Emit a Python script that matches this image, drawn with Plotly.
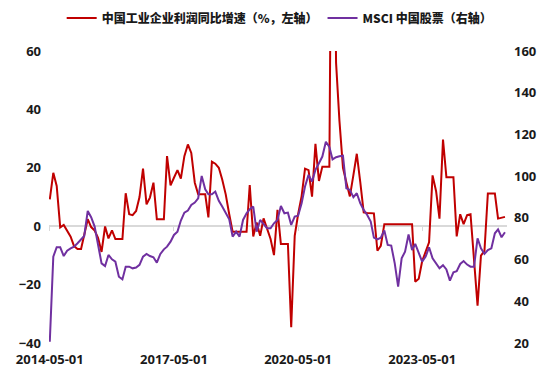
import pandas as pd
import plotly.graph_objects as go

start_month = "2014-05-01"
n_months = 133

profit_yoy = [
    9.2, 18.3, 13.8, -0.4, 0.4, -1.6, -3.6, -6.8, -7.8, -7.8,
    -2.5, 2.4, -0.3, -1.5, -4.0, -8.8, -0.1, -4.2, -1.4, -4.4,
    -4.4, -4.4, 11.3, 4.1, 3.8, 5.2, 10.0, 19.7, 7.5, 9.8,
    14.9, 2.4, 2.4, 2.4, 24.0, 14.0, 16.6, 19.2, 16.3, 24.0,
    28.0, 25.1, 14.9, 10.9, 10.9, 10.9, 3.0, 22.1, 21.4, 20.0,
    16.0, 10.9, 4.1, -1.9, -1.9, -1.9, -1.9, -1.9, 14.1, -3.5,
    1.3, -3.3, 2.7, -1.0, -4.4, -9.9, 5.6, -6.1, -6.1, -6.1,
    -34.6, -3.3, 4.1, 10.3, 19.7, 19.2, 10.1, 28.2, 15.5, 20.4,
    20.4, 20.4, 178.9, 56.0, 36.0, 20.0, 15.0, 10.2, 17.5, 24.8,
    15.0, 4.7, 4.5, 4.5, 4.4, -8.4, -6.7, 0.7, 0.7, 0.7,
    0.7, 0.7, 0.7, 0.7, 0.7, 0.7, -19.0, -18.0, -12.0, -8.5,
    -5.5, 17.4, 12.0, 2.6, 29.7, 16.8, 16.8, 16.8, -3.5, 4.1,
    0.7, 3.8, 4.1, -12.4, -27.2, -10.1, -8.4, 11.2, 11.2, 11.2,
    2.6, 3.0, 3.2,
]

msci_china = [
    20.6, 61.4, 65.9, 65.9, 61.7, 64.3, 65.4, 66.2, 67.8, 69.7,
    71.3, 83.3, 80.3, 75.8, 67.8, 58.2, 56.9, 62.2, 60.1, 59.0,
    51.8, 50.5, 56.6, 56.6, 55.8, 56.2, 57.5, 61.4, 62.7, 61.7,
    61.1, 58.5, 62.7, 64.9, 66.2, 68.6, 71.8, 73.4, 78.7, 82.5,
    83.5, 86.2, 87.3, 89.4, 100.1, 93.7, 91.3, 91.3, 92.6, 88.2,
    85.4, 82.2, 79.3, 71.0, 73.4, 71.0, 79.0, 82.2, 84.1, 85.4,
    73.4, 79.0, 77.0, 75.0, 75.0, 77.4, 79.0, 85.7, 82.2, 82.5,
    76.6, 80.6, 81.0, 87.0, 95.0, 100.6, 97.4, 103.0, 106.2, 109.4,
    116.5, 114.0, 108.0, 109.1, 109.5, 109.8, 94.2, 93.4, 89.9, 91.8,
    87.0, 83.8, 81.4, 78.2, 70.5, 69.7, 70.5, 74.0, 67.0, 66.7,
    58.2, 47.0, 60.6, 63.8, 72.0, 64.6, 67.5, 63.5, 59.0, 61.4,
    65.9, 60.6, 58.2, 55.8, 57.3, 55.3, 49.9, 53.9, 54.4, 57.9,
    59.3, 57.6, 56.6, 56.6, 70.2, 65.4, 62.7, 64.6, 65.4, 72.6,
    74.5, 70.7, 73.1,
]

tick_dates = ["2014-05-01", "2017-05-01", "2020-05-01", "2023-05-01"]
tick_labels = ["2014-05-01", "2017-05-01", "2020-05-01", "2023-05-01"]

left_ticks = [-40, -20, 0, 20, 40, 60]
right_ticks = [20, 40, 60, 80, 100, 120, 140, 160]

name_profit = "中国工业企业利润同比增速（%，左轴）"
name_msci = "MSCI 中国股票（右轴）"

dates = pd.date_range(start_month, periods=n_months, freq="MS")

FONT = "Open Sans, Noto Sans CJK SC, sans-serif"
LEG_FONT = "Noto Sans CJK SC, sans-serif"
RED = "#C00000"
PURPLE = "#7030A0"
GRAY = "#D9D9D9"

fig = go.Figure()
fig.add_trace(go.Scatter(
    x=dates, y=profit_yoy, name=name_profit, mode="lines",
    line=dict(color=RED, width=2), yaxis="y", xaxis="x",
))
fig.add_trace(go.Scatter(
    x=dates, y=msci_china, name=name_msci, mode="lines",
    line=dict(color=PURPLE, width=2), yaxis="y2", xaxis="x",
))
# helper (invisible) trace so the zero-line tick axis is drawn
fig.add_trace(go.Scatter(
    x=dates, y=[None] * n_months, xaxis="x2", yaxis="y",
    showlegend=False, hoverinfo="skip", mode="lines",
))

tick_font = dict(family=FONT, size=13, color="#1A1A1A", weight="bold")

# the page body has an 8px default margin, so the figure is offset by 8px
fig.update_layout(
    width=537, height=365,
    margin=dict(l=41, r=38, t=43, b=30, autoexpand=False),
    paper_bgcolor="white", plot_bgcolor="white",
    font=dict(family=FONT, size=12, color="#1A1A1A"),
    showlegend=True,
    legend=dict(
        orientation="h", xref="container", yref="container",
        x=0.505, xanchor="center", y=1 - 10 / 365, yanchor="middle",
        font=dict(family=LEG_FONT, size=12, color="#1A1A1A", weight=900),
        itemwidth=30, tracegroupgap=0,
    ),
    xaxis=dict(
        type="date", range=["2014-04-24", "2025-05-19"],
        tickmode="array", tickvals=tick_dates, ticktext=tick_labels,
        showgrid=False, zeroline=False, showline=False, ticks="",
        tickfont=tick_font, ticklabelstandoff=7,
    ),
    xaxis2=dict(
        type="date", matches="x", overlaying="x", anchor="free", position=0.4,
        tickmode="array", tickvals=tick_dates, showticklabels=False,
        ticks="outside", ticklen=4, tickwidth=1, tickcolor=GRAY,
        showgrid=False, zeroline=False, showline=False,
    ),
    yaxis=dict(
        range=[-40, 60], tickmode="array", tickvals=left_ticks,
        showgrid=False, zeroline=True, zerolinecolor=GRAY, zerolinewidth=1.5,
        showline=False, ticks="", tickfont=tick_font, ticklabelstandoff=7,
    ),
    yaxis2=dict(
        range=[20, 160], tickmode="array", tickvals=right_ticks,
        overlaying="y", side="right", anchor="x",
        showgrid=False, zeroline=False, showline=False, ticks="",
        tickfont=tick_font, ticklabelstandoff=6,
    ),
)

fig.write_html("out.html")
